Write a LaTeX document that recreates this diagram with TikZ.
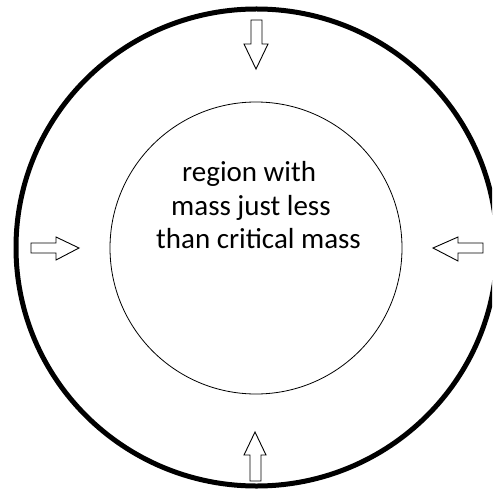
\documentclass[tikz,border=0pt]{standalone}
\usepackage{fontspec}
\setmainfont{Carlito}
\begin{document}
\begin{tikzpicture}[x=1pt,y=-1pt,
  outer/.style={draw=black,line width=5pt},
  inner/.style={draw=black,line width=0.8pt},
  hollowarrow/.style={draw=black,line width=0.9pt,fill=white,line join=miter},
  label/.style={anchor=base west,inner sep=0pt,font=\fontsize{29}{34}\selectfont,text=black}]
\useasboundingbox (0,0) rectangle (492,494);
\fill[white] (0,0) rectangle (492,494);
\begin{scope}
\clip (0,0) rectangle (492,494);
\draw[outer] (256.5,247.5) ellipse[x radius=240.5,y radius=238.5];
\end{scope}
\draw[inner] (256,248) circle[radius=146];
% top arrow (down)
\draw[hollowarrow] (251,20) -- (262,20) -- (262,44) -- (268,44) -- (256,69) -- (244,44) -- (251,44) -- cycle;
% bottom arrow (up)
\draw[hollowarrow] (250,481) -- (261,481) -- (261,455) -- (266,455) -- (255,432) -- (244,455) -- (250,455) -- cycle;
% left arrow (right)
\draw[hollowarrow] (31,243) -- (56,243) -- (56,237) -- (79,248) -- (56,260) -- (56,253) -- (31,253) -- cycle;
% right arrow (left)
\draw[hollowarrow] (483,243) -- (458,243) -- (458,237) -- (433,248) -- (458,261) -- (458,253) -- (483,253) -- cycle;
\node[label] (l1) at (182,182) {region with};
\node[label] (l2) at (171,215) {mass just less};
\node[label] (l3) at (156,248) {than critical mass};
\end{tikzpicture}
\end{document}
